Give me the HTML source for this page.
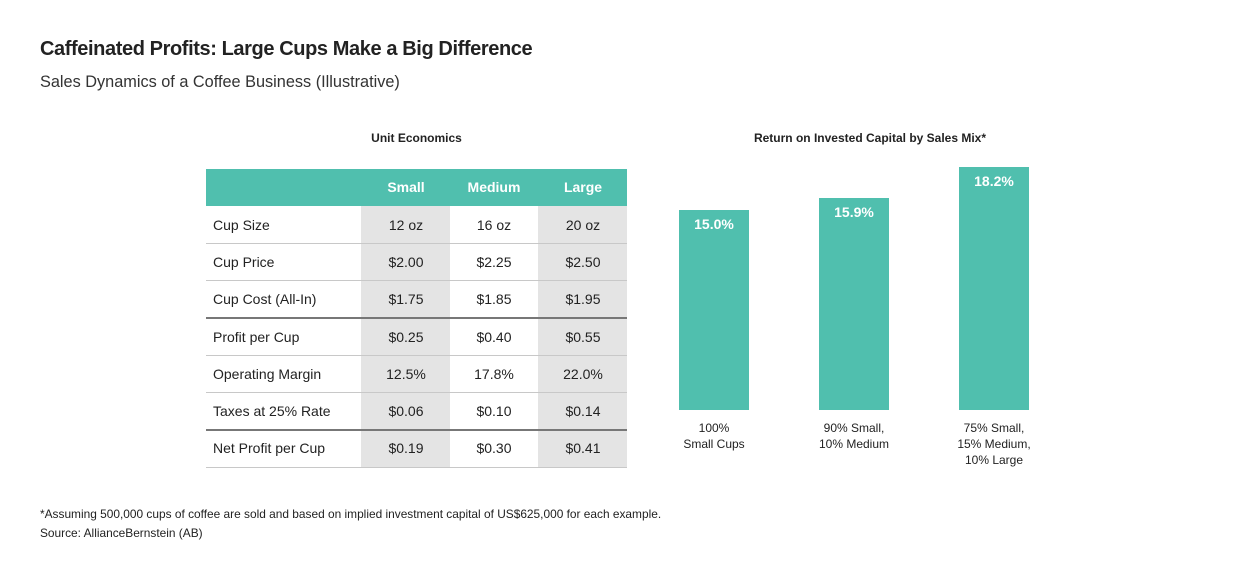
<!DOCTYPE html>
<html><head><meta charset="utf-8"><style>
body{margin:0;width:1238px;height:580px;background:#fff;font-family:"Liberation Sans",sans-serif;color:#222;position:relative;overflow:hidden}
.a{position:absolute;white-space:nowrap}
.c{position:absolute;text-align:center;font-size:13px}
</style></head><body>
<div class="a" style="left:40px;top:38px;font-size:20px;font-weight:bold;letter-spacing:-0.4px">Caffeinated Profits: Large Cups Make a Big Difference</div>
<div class="a" style="left:40px;top:73px;font-size:16.3px;color:#333">Sales Dynamics of a Coffee Business (Illustrative)</div>
<div class="c" style="left:206px;width:421px;top:131px;font-size:12px;font-weight:bold">Unit Economics</div>
<div class="c" style="left:660px;width:420px;top:131px;font-size:12px;font-weight:bold">Return on Invested Capital by Sales Mix*</div>
<svg class="a" style="left:0;top:0" width="1238" height="580">
<rect x="206" y="169" width="421" height="37" fill="#50bfae"/>
<rect x="361" y="206" width="89" height="261" fill="#e4e4e4"/>
<rect x="538" y="206" width="89" height="261" fill="#e4e4e4"/>
<g stroke="#c8c8c8" stroke-width="1">
<line x1="206" x2="627" y1="243.5" y2="243.5"/><line x1="206" x2="627" y1="280.5" y2="280.5"/>
<line x1="206" x2="627" y1="355.5" y2="355.5"/><line x1="206" x2="627" y1="392.5" y2="392.5"/>
<line x1="206" x2="627" y1="467.5" y2="467.5"/></g>
<g stroke="#777" stroke-width="2"><line x1="206" x2="627" y1="318" y2="318"/><line x1="206" x2="627" y1="430" y2="430"/></g>
<g fill="#50bfae"><rect x="679" y="210" width="70" height="200"/><rect x="819" y="198" width="70" height="212"/><rect x="959" y="167" width="70" height="243"/></g>
<g font-family="Liberation Sans" font-size="14" text-anchor="middle">
<g fill="#fff" font-weight="bold"><text x="406" y="192">Small</text><text x="494" y="192">Medium</text><text x="583" y="192">Large</text>
<text x="714" y="229">15.0%</text><text x="854" y="217">15.9%</text><text x="994" y="186">18.2%</text></g>
<g fill="#222">
<g text-anchor="start"><text x="213" y="230">Cup Size</text><text x="213" y="267">Cup Price</text><text x="213" y="304">Cup Cost (All-In)</text><text x="213" y="342">Profit per Cup</text><text x="213" y="379">Operating Margin</text><text x="213" y="416">Taxes at 25% Rate</text><text x="213" y="453">Net Profit per Cup</text></g>
<text x="406" y="230">12 oz</text><text x="494" y="230">16 oz</text><text x="583" y="230">20 oz</text>
<text x="406" y="267">$2.00</text><text x="494" y="267">$2.25</text><text x="583" y="267">$2.50</text>
<text x="406" y="304">$1.75</text><text x="494" y="304">$1.85</text><text x="583" y="304">$1.95</text>
<text x="406" y="342">$0.25</text><text x="494" y="342">$0.40</text><text x="583" y="342">$0.55</text>
<text x="406" y="379">12.5%</text><text x="494" y="379">17.8%</text><text x="583" y="379">22.0%</text>
<text x="406" y="416">$0.06</text><text x="494" y="416">$0.10</text><text x="583" y="416">$0.14</text>
<text x="406" y="453">$0.19</text><text x="494" y="453">$0.30</text><text x="583" y="453">$0.41</text>
</g>
<g font-size="12" fill="#222"><text x="714" y="432">100%</text><text x="714" y="448">Small Cups</text>
<text x="854" y="432">90% Small,</text><text x="854" y="448">10% Medium</text>
<text x="994" y="432">75% Small,</text><text x="994" y="448">15% Medium,</text><text x="994" y="464">10% Large</text></g>
</g>
<g font-family="Liberation Sans" font-size="11.9" fill="#222"><text x="40" y="518">*Assuming 500,000 cups of coffee are sold and based on implied investment capital of US$625,000 for each example.</text>
<text x="40" y="537">Source: AllianceBernstein (AB)</text></g>
</svg>
</body></html>
